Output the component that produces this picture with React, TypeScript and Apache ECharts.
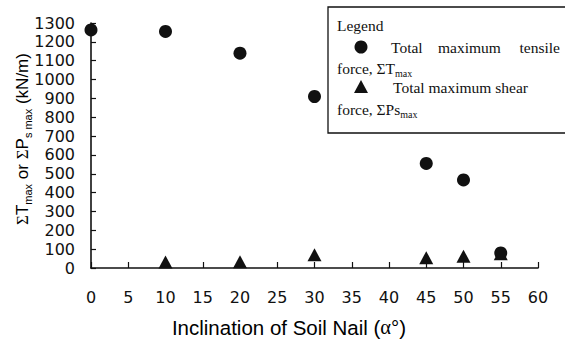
import React, { useEffect, useRef } from "react";
import * as echarts from "echarts";

// Inclination of soil nail (degrees)
const tensileAngles = [0, 10, 20, 30, 45, 50, 55];
// Total maximum tensile force, ΣTmax (kN/m)
const tensileForce = [1263, 1255, 1140, 910, 555, 467, 80];

const shearAngles = [10, 20, 30, 45, 50, 55];
// Total maximum shear force, ΣPs max (kN/m)
const shearForce = [32, 33, 70, 55, 63, 76];

const xTicks = { min: 0, max: 60, interval: 5 };
const yTicks = { min: 0, max: 1300, interval: 100 };

const SANS = "Liberation Sans";
const DIGITS = "DejaVu Sans";
const SERIF = "Liberation Serif";
const INK = "#111";
const LEGEND_SIZE = 15.5;

// rich-text styles: main run centred in a fixed line, subscript sitting on the line's bottom
const richFor = (family: string, size: number, sub: number, line: number, greek = SERIF) => ({
  a: { fontFamily: family, fontSize: size, color: INK, lineHeight: line },
  g: { fontFamily: greek, fontSize: size, color: INK, lineHeight: line },
  s: { fontFamily: family, fontSize: sub, color: INK, lineHeight: sub, verticalAlign: "bottom" },
});

export default function App() {
  const ref = useRef<HTMLDivElement>(null);

  useEffect(() => {
    if (!ref.current) return;
    document.body.style.margin = "0";
    const chart = echarts.init(ref.current, null, { renderer: "svg" });

    const legendRich = richFor(SERIF, LEGEND_SIZE, 10, 20);

    const legendText = (x: number, y: number, text: string, rich?: any, align = "left") => ({
      type: "text",
      x,
      y,
      z: 11,
      style: {
        text,
        fontFamily: SERIF,
        fontSize: LEGEND_SIZE,
        fill: INK,
        align,
        verticalAlign: "middle",
        rich,
      },
    });

    chart.setOption({
      animation: false,
      backgroundColor: "#fff",
      grid: { left: 91, right: 27, top: 23, bottom: 73 },
      xAxis: {
        type: "value",
        ...xTicks,
        axisLine: { show: true, lineStyle: { color: INK, width: 1.6 } },
        axisTick: { show: true, inside: true, length: 6, lineStyle: { color: INK, width: 1.2 } },
        axisLabel: { fontFamily: DIGITS, fontSize: 16, color: INK, margin: 21 },
        splitLine: { show: false },
      },
      yAxis: {
        type: "value",
        ...yTicks,
        axisLine: { show: true, lineStyle: { color: INK, width: 1.6 } },
        axisTick: { show: true, inside: true, length: 5, lineStyle: { color: INK, width: 1.2 } },
        axisLabel: {
          fontFamily: DIGITS,
          fontSize: 16,
          color: INK,
          margin: 16,
          formatter: (v: number) => String(v),
        },
        splitLine: { show: false },
      },
      series: [
        {
          name: "Total maximum tensile force",
          type: "scatter",
          symbol: "circle",
          symbolSize: 13,
          itemStyle: { color: INK, opacity: 1 },
          data: tensileAngles.map((a, i) => [a, tensileForce[i]]),
          z: 3,
        },
        {
          name: "Total maximum shear force",
          type: "scatter",
          symbol: "triangle",
          symbolSize: [14, 13],
          itemStyle: { color: INK, opacity: 1 },
          data: shearAngles.map((a, i) => [a, shearForce[i]]),
          z: 2,
        },
      ],
      graphic: [
        // x-axis title
        {
          type: "text",
          x: 289,
          y: 327,
          style: {
            text: "{a|Inclination of Soil Nail (}{g|α}{a|°)}",
            align: "center",
            verticalAlign: "middle",
            rich: richFor(SANS, 20.5, 12, 24),
          },
        },
        // y-axis title with subscripts
        {
          type: "text",
          x: 22,
          y: 139,
          rotation: Math.PI / 2,
          style: {
            text: "{g|Σ}{a|T}{s|max}{a| or }{g|Σ}{a|P}{s|s max}{a| (kN/m)}",
            align: "center",
            verticalAlign: "middle",
            rich: richFor(SANS, 17, 11, 22),
          },
        },
        // legend box
        {
          type: "rect",
          z: 10,
          shape: { x: 328, y: 7, width: 250, height: 126 },
          style: { fill: "#fff", stroke: INK, lineWidth: 1.3 },
        },
        legendText(337, 25, "Legend"),
        {
          type: "circle",
          z: 11,
          shape: { cx: 361, cy: 47, r: 6.5 },
          style: { fill: INK },
        },
        legendText(391, 47, "Total"),
        legendText(438, 47, "maximum"),
        legendText(560, 47, "tensile", undefined, "right"),
        legendText(337, 68, "{a|force, ΣT}{s|max}", legendRich),
        {
          type: "polygon",
          z: 11,
          shape: { points: [[361, 80], [354, 93], [368, 93]] },
          style: { fill: INK },
        },
        legendText(393, 87, "Total maximum shear"),
        legendText(337, 109, "{a|force, ΣPs}{s|max}", legendRich),
      ],
    });

    return () => chart.dispose();
  }, []);

  return <div ref={ref} style={{ width: 565, height: 341 }} />;
}
